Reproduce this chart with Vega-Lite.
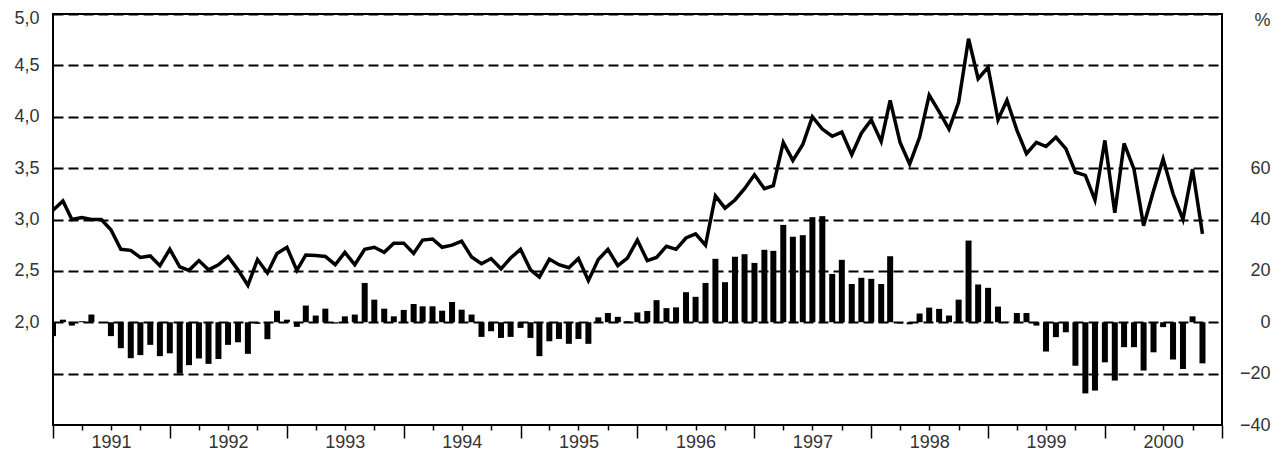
{
  "$schema": "https://vega.github.io/schema/vega-lite/v6.json",
  "width": 1169,
  "height": 411,
  "autosize": {"type": "none"},
  "padding": {"left": 53, "top": 14, "right": 65, "bottom": 25},
  "background": "white",
  "config": {
    "font": "Liberation Sans",
    "view": {"stroke": "black", "strokeWidth": 2},
    "axis": {"labelFontSize": 18, "labelColor": "#333", "titleColor": "#333", "labelFont": "Liberation Sans", "titleFont": "Liberation Sans"}
  },
  "data": {
    "values": [
      {"d": "1991-01-01", "rate": 3.09, "chg": -5.4},
      {"d": "1991-02-01", "rate": 3.18, "chg": 1.0},
      {"d": "1991-03-01", "rate": 3.00, "chg": -1.3},
      {"d": "1991-04-01", "rate": 3.02, "chg": 0.4},
      {"d": "1991-05-01", "rate": 3.00, "chg": 3.0},
      {"d": "1991-06-01", "rate": 3.00, "chg": 0.0},
      {"d": "1991-07-01", "rate": 2.90, "chg": -5.4},
      {"d": "1991-08-01", "rate": 2.71, "chg": -10.1},
      {"d": "1991-09-01", "rate": 2.70, "chg": -14.0},
      {"d": "1991-10-01", "rate": 2.63, "chg": -12.8},
      {"d": "1991-11-01", "rate": 2.645, "chg": -8.8},
      {"d": "1991-12-01", "rate": 2.55, "chg": -13.2},
      {"d": "1992-01-01", "rate": 2.71, "chg": -12.1},
      {"d": "1992-02-01", "rate": 2.54, "chg": -20.0},
      {"d": "1992-03-01", "rate": 2.505, "chg": -16.7},
      {"d": "1992-04-01", "rate": 2.60, "chg": -14.1},
      {"d": "1992-05-01", "rate": 2.51, "chg": -16.2},
      {"d": "1992-06-01", "rate": 2.56, "chg": -14.3},
      {"d": "1992-07-01", "rate": 2.64, "chg": -8.8},
      {"d": "1992-08-01", "rate": 2.51, "chg": -7.8},
      {"d": "1992-09-01", "rate": 2.36, "chg": -12.3},
      {"d": "1992-10-01", "rate": 2.61, "chg": -0.6},
      {"d": "1992-11-01", "rate": 2.48, "chg": -6.6},
      {"d": "1992-12-01", "rate": 2.67, "chg": 4.5},
      {"d": "1993-01-01", "rate": 2.73, "chg": 1.0},
      {"d": "1993-02-01", "rate": 2.505, "chg": -1.8},
      {"d": "1993-03-01", "rate": 2.655, "chg": 6.5},
      {"d": "1993-04-01", "rate": 2.65, "chg": 2.6},
      {"d": "1993-05-01", "rate": 2.64, "chg": 5.3},
      {"d": "1993-06-01", "rate": 2.56, "chg": -0.5},
      {"d": "1993-07-01", "rate": 2.68, "chg": 2.3},
      {"d": "1993-08-01", "rate": 2.56, "chg": 3.0},
      {"d": "1993-09-01", "rate": 2.71, "chg": 15.3},
      {"d": "1993-10-01", "rate": 2.73, "chg": 8.8},
      {"d": "1993-11-01", "rate": 2.68, "chg": 5.3},
      {"d": "1993-12-01", "rate": 2.77, "chg": 2.3},
      {"d": "1994-01-01", "rate": 2.77, "chg": 4.8},
      {"d": "1994-02-01", "rate": 2.67, "chg": 7.1},
      {"d": "1994-03-01", "rate": 2.80, "chg": 6.2},
      {"d": "1994-04-01", "rate": 2.81, "chg": 6.2},
      {"d": "1994-05-01", "rate": 2.73, "chg": 4.5},
      {"d": "1994-06-01", "rate": 2.75, "chg": 7.9},
      {"d": "1994-07-01", "rate": 2.79, "chg": 4.9},
      {"d": "1994-08-01", "rate": 2.635, "chg": 3.0},
      {"d": "1994-09-01", "rate": 2.57, "chg": -5.7},
      {"d": "1994-10-01", "rate": 2.62, "chg": -3.5},
      {"d": "1994-11-01", "rate": 2.52, "chg": -6.1},
      {"d": "1994-12-01", "rate": 2.625, "chg": -5.7},
      {"d": "1995-01-01", "rate": 2.71, "chg": -2.2},
      {"d": "1995-02-01", "rate": 2.51, "chg": -6.1},
      {"d": "1995-03-01", "rate": 2.44, "chg": -13.2},
      {"d": "1995-04-01", "rate": 2.615, "chg": -7.4},
      {"d": "1995-05-01", "rate": 2.56, "chg": -6.5},
      {"d": "1995-06-01", "rate": 2.53, "chg": -8.4},
      {"d": "1995-07-01", "rate": 2.62, "chg": -6.5},
      {"d": "1995-08-01", "rate": 2.405, "chg": -8.4},
      {"d": "1995-09-01", "rate": 2.61, "chg": 1.9},
      {"d": "1995-10-01", "rate": 2.71, "chg": 3.6},
      {"d": "1995-11-01", "rate": 2.55, "chg": 2.1},
      {"d": "1995-12-01", "rate": 2.625, "chg": 0.4},
      {"d": "1996-01-01", "rate": 2.80, "chg": 3.8},
      {"d": "1996-02-01", "rate": 2.60, "chg": 4.4},
      {"d": "1996-03-01", "rate": 2.63, "chg": 8.6},
      {"d": "1996-04-01", "rate": 2.74, "chg": 5.5},
      {"d": "1996-05-01", "rate": 2.71, "chg": 5.8},
      {"d": "1996-06-01", "rate": 2.82, "chg": 11.7},
      {"d": "1996-07-01", "rate": 2.86, "chg": 9.9},
      {"d": "1996-08-01", "rate": 2.75, "chg": 15.3},
      {"d": "1996-09-01", "rate": 3.23, "chg": 24.7},
      {"d": "1996-10-01", "rate": 3.11, "chg": 15.6},
      {"d": "1996-11-01", "rate": 3.19, "chg": 25.5},
      {"d": "1996-12-01", "rate": 3.30, "chg": 26.5},
      {"d": "1997-01-01", "rate": 3.435, "chg": 23.1},
      {"d": "1997-02-01", "rate": 3.30, "chg": 28.2},
      {"d": "1997-03-01", "rate": 3.33, "chg": 27.8},
      {"d": "1997-04-01", "rate": 3.75, "chg": 37.9},
      {"d": "1997-05-01", "rate": 3.575, "chg": 33.3},
      {"d": "1997-06-01", "rate": 3.73, "chg": 33.9},
      {"d": "1997-07-01", "rate": 4.00, "chg": 40.9},
      {"d": "1997-08-01", "rate": 3.88, "chg": 41.3},
      {"d": "1997-09-01", "rate": 3.81, "chg": 18.8},
      {"d": "1997-10-01", "rate": 3.85, "chg": 24.3},
      {"d": "1997-11-01", "rate": 3.63, "chg": 14.9},
      {"d": "1997-12-01", "rate": 3.84, "chg": 17.3},
      {"d": "1998-01-01", "rate": 3.97, "chg": 16.9},
      {"d": "1998-02-01", "rate": 3.76, "chg": 14.9},
      {"d": "1998-03-01", "rate": 4.16, "chg": 25.7},
      {"d": "1998-04-01", "rate": 3.75, "chg": -0.5},
      {"d": "1998-05-01", "rate": 3.54, "chg": -0.8},
      {"d": "1998-06-01", "rate": 3.80, "chg": 3.4},
      {"d": "1998-07-01", "rate": 4.21, "chg": 5.7},
      {"d": "1998-08-01", "rate": 4.05, "chg": 5.2},
      {"d": "1998-09-01", "rate": 3.88, "chg": 2.6},
      {"d": "1998-10-01", "rate": 4.14, "chg": 8.8},
      {"d": "1998-11-01", "rate": 4.76, "chg": 31.8},
      {"d": "1998-12-01", "rate": 4.37, "chg": 14.7},
      {"d": "1999-01-01", "rate": 4.48, "chg": 13.4},
      {"d": "1999-02-01", "rate": 3.97, "chg": 6.1},
      {"d": "1999-03-01", "rate": 4.16, "chg": 0.2},
      {"d": "1999-04-01", "rate": 3.87, "chg": 3.6},
      {"d": "1999-05-01", "rate": 3.64, "chg": 3.6},
      {"d": "1999-06-01", "rate": 3.75, "chg": -1.3},
      {"d": "1999-07-01", "rate": 3.71, "chg": -11.4},
      {"d": "1999-08-01", "rate": 3.80, "chg": -5.8},
      {"d": "1999-09-01", "rate": 3.69, "chg": -3.9},
      {"d": "1999-10-01", "rate": 3.46, "chg": -16.9},
      {"d": "1999-11-01", "rate": 3.43, "chg": -27.7},
      {"d": "1999-12-01", "rate": 3.19, "chg": -26.6},
      {"d": "2000-01-01", "rate": 3.77, "chg": -15.6},
      {"d": "2000-02-01", "rate": 3.065, "chg": -22.7},
      {"d": "2000-03-01", "rate": 3.74, "chg": -9.7},
      {"d": "2000-04-01", "rate": 3.49, "chg": -9.7},
      {"d": "2000-05-01", "rate": 2.94, "chg": -18.8},
      {"d": "2000-06-01", "rate": 3.28, "chg": -11.7},
      {"d": "2000-07-01", "rate": 3.59, "chg": -1.9},
      {"d": "2000-08-01", "rate": 3.25, "chg": -14.5},
      {"d": "2000-09-01", "rate": 3.00, "chg": -18.2},
      {"d": "2000-10-01", "rate": 3.49, "chg": 2.3},
      {"d": "2000-11-01", "rate": 2.86, "chg": -16.0}
    ]
  },
  "encoding": {
    "x": {
      "field": "d",
      "type": "temporal",
      "scale": {
        "type": "utc",
        "padding": 0,
        "domain": [
          {"year": 1991, "month": 1, "date": 1, "utc": true},
          {"year": 2001, "month": 1, "date": 1, "utc": true}
        ]
      },
      "axis": {
        "title": null,
        "domain": false,
        "grid": false,
        "tickCount": {"interval": "month", "step": 3},
        "tickColor": "black",
        "tickWidth": 1.5,
        "tickSize": {"condition": {"test": "utcmonth(datum.value) == 0", "value": 13}, "value": 5},
        "labelPadding": 3,
        "labelOverlap": false,
        "labelFlush": false,
        "labelExpr": "utcmonth(datum.value) == 6 ? utcFormat(datum.value, '%Y') : ''"
      }
    }
  },
  "layer": [
    {
      "mark": {"type": "bar", "color": "black", "width": 6, "clip": true},
      "encoding": {
        "y": {
          "field": "chg",
          "type": "quantitative",
          "scale": {"domain": [-40, 120], "nice": false, "zero": false},
          "axis": {
            "orient": "right",
            "values": [-40, -20, 0, 20, 40, 60],
            "grid": false,
            "domain": false,
            "ticks": false,
            "labelAlign": "right",
            "labelPadding": 48,
            "title": "%",
            "titleAngle": 0,
            "titleAlign": "right",
            "titleBaseline": "alphabetic",
            "titleX": 48,
            "titleY": 11,
            "titleFontSize": 18,
            "titleFontWeight": "normal"
          }
        }
      }
    },
    {
      "mark": {"type": "line", "color": "black", "strokeWidth": 3.5},
      "encoding": {
        "y": {
          "field": "rate",
          "type": "quantitative",
          "scale": {"domain": [1, 5], "nice": false, "zero": false},
          "axis": {
            "orient": "left",
            "title": null,
            "values": [1.5, 2, 2.5, 3, 3.5, 4, 4.5, 5],
            "grid": true,
            "gridColor": "black",
            "gridWidth": 2,
            "gridDash": [10, 5],
            "domain": false,
            "ticks": false,
            "labelPadding": 14,
            "labelOffset": {"condition": {"test": "datum.value == 5", "value": 4}, "value": 0},
            "labelExpr": "datum.value < 2 ? '' : replace(format(datum.value, '.1f'), '.', ',')"
          }
        }
      }
    }
  ],
  "resolve": {"scale": {"y": "independent"}}
}
